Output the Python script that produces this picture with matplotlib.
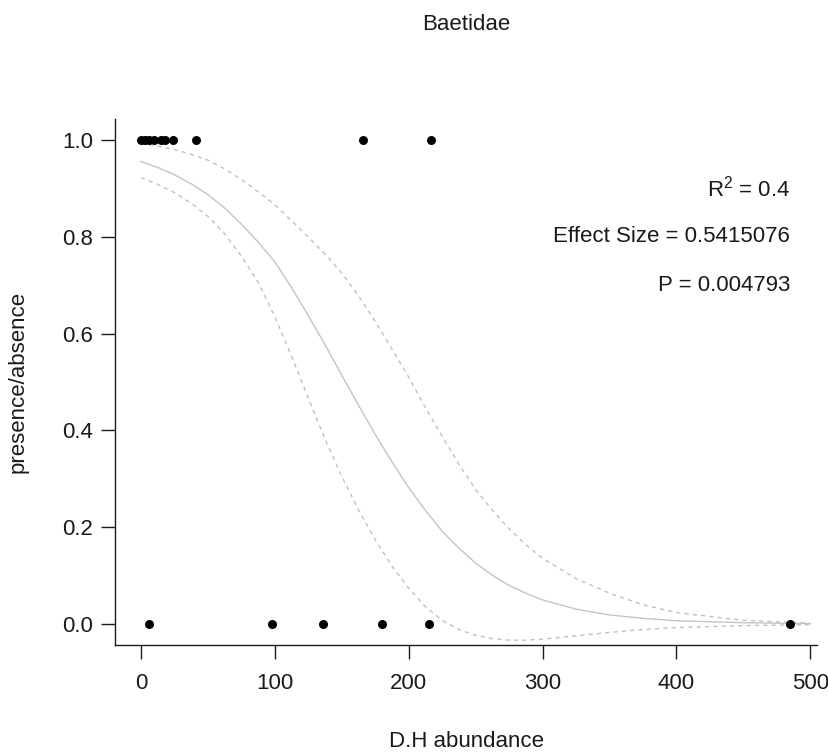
import matplotlib
matplotlib.use("Agg")
import matplotlib.pyplot as plt

plt.rcParams['font.family'] = ['Liberation Sans', 'DejaVu Sans']
plt.rcParams['mathtext.fontset'] = 'custom'
plt.rcParams['mathtext.rm'] = 'Liberation Sans'
plt.rcParams['mathtext.it'] = 'Liberation Sans'

# observed data: D.H abundance and presence (1) / absence (0) of Baetidae
x_present = [0, 3, 6, 10, 15, 18, 24, 41, 166, 217]
x_absent = [6, 98, 136, 180, 215, 485]

# fitted logistic curve and its confidence band
curve_x = [0, 12.5, 25, 37.5, 50, 62.5, 75, 87.5, 100, 112.5, 125, 137.5, 150,
           162.5, 175, 187.5, 200, 212.5, 225, 237.5, 250, 262.5, 275, 287.5, 300,
           325, 350, 375, 400, 450, 500]
fit_y = [0.955, 0.943, 0.928, 0.909, 0.887, 0.859, 0.826, 0.789, 0.748, 0.695,
         0.637, 0.577, 0.514, 0.452, 0.392, 0.335, 0.282, 0.235, 0.192, 0.157,
         0.126, 0.101, 0.080, 0.064, 0.050, 0.031, 0.019, 0.012, 0.007, 0.003, 0.001]
upper_y = [0.992, 0.987, 0.980, 0.970, 0.958, 0.940, 0.918, 0.893, 0.866, 0.833,
           0.799, 0.764, 0.725, 0.678, 0.625, 0.568, 0.510, 0.447, 0.388, 0.330,
           0.278, 0.235, 0.197, 0.164, 0.136, 0.094, 0.064, 0.040, 0.024, 0.008, 0.002]
lower_y = [0.922, 0.908, 0.891, 0.869, 0.842, 0.806, 0.760, 0.706, 0.635, 0.553,
           0.467, 0.382, 0.305, 0.236, 0.174, 0.120, 0.074, 0.036, 0.008, -0.011,
           -0.023, -0.030, -0.033, -0.033, -0.031, -0.024, -0.017, -0.011, -0.007,
           -0.003, -0.001]

title = "Baetidae"
xlabel = "D.H abundance"
ylabel = "presence/absence"
stats_r2 = "0.4"
stats_effect = "Effect Size = 0.5415076"
stats_p = "P = 0.004793"
xticks = [0, 100, 200, 300, 400, 500]
yticks = [0.0, 0.2, 0.4, 0.6, 0.8, 1.0]

FS = 16
TC = '#1a1a1a'

fig = plt.figure(figsize=(8.29, 7.52), dpi=100)
ax = fig.add_axes([0.1387, 0.1423, 0.8468, 0.6995])

ax.plot(curve_x, fit_y, color='#c4c4c4', lw=1.0)
ax.plot(curve_x, upper_y, color='#c0c0c0', lw=1.0, ls=(0, (3, 3)))
ax.plot(curve_x, lower_y, color='#c0c0c0', lw=1.0, ls=(0, (3, 3)))
ax.scatter(x_present, [1] * len(x_present), s=42, color='black', zorder=3, linewidths=0)
ax.scatter(x_absent, [0] * len(x_absent), s=42, color='black', zorder=3, linewidths=0)

ax.set_xlim(-19.4, 505)
ax.set_ylim(-0.043, 1.043)
ax.set_xticks(xticks)
ax.set_yticks(yticks)
ax.set_xticklabels([str(t) for t in xticks])
ax.set_yticklabels([f"{t:.1f}" for t in yticks])
ax.spines['top'].set_visible(False)
ax.spines['right'].set_visible(False)
for s in ('left', 'bottom'):
    ax.spines[s].set_linewidth(1.0)
    ax.spines[s].set_color(TC)
ax.tick_params(axis='both', labelsize=FS, length=10, width=1.0, color=TC,
               labelcolor=TC)
ax.tick_params(axis='x', pad=10)
ax.tick_params(axis='y', pad=6)

fig.text(0.5622, 0.968, title, ha='center', va='center', fontsize=FS, color=TC)
fig.text(0.5622, 0.0146, xlabel, ha='center', va='center', fontsize=FS, color=TC)
fig.text(0.0217, 0.492, ylabel, ha='center', va='center', rotation=90, fontsize=FS,
         color=TC)

ax.text(485, 0.9, r"R$^{2}$ = " + stats_r2, ha='right', va='center', fontsize=FS, color=TC)
ax.text(485, 0.8, stats_effect, ha='right', va='center', fontsize=FS, color=TC)
ax.text(485, 0.7, stats_p, ha='right', va='center', fontsize=FS, color=TC)

fig.savefig("out.png", dpi=100)
